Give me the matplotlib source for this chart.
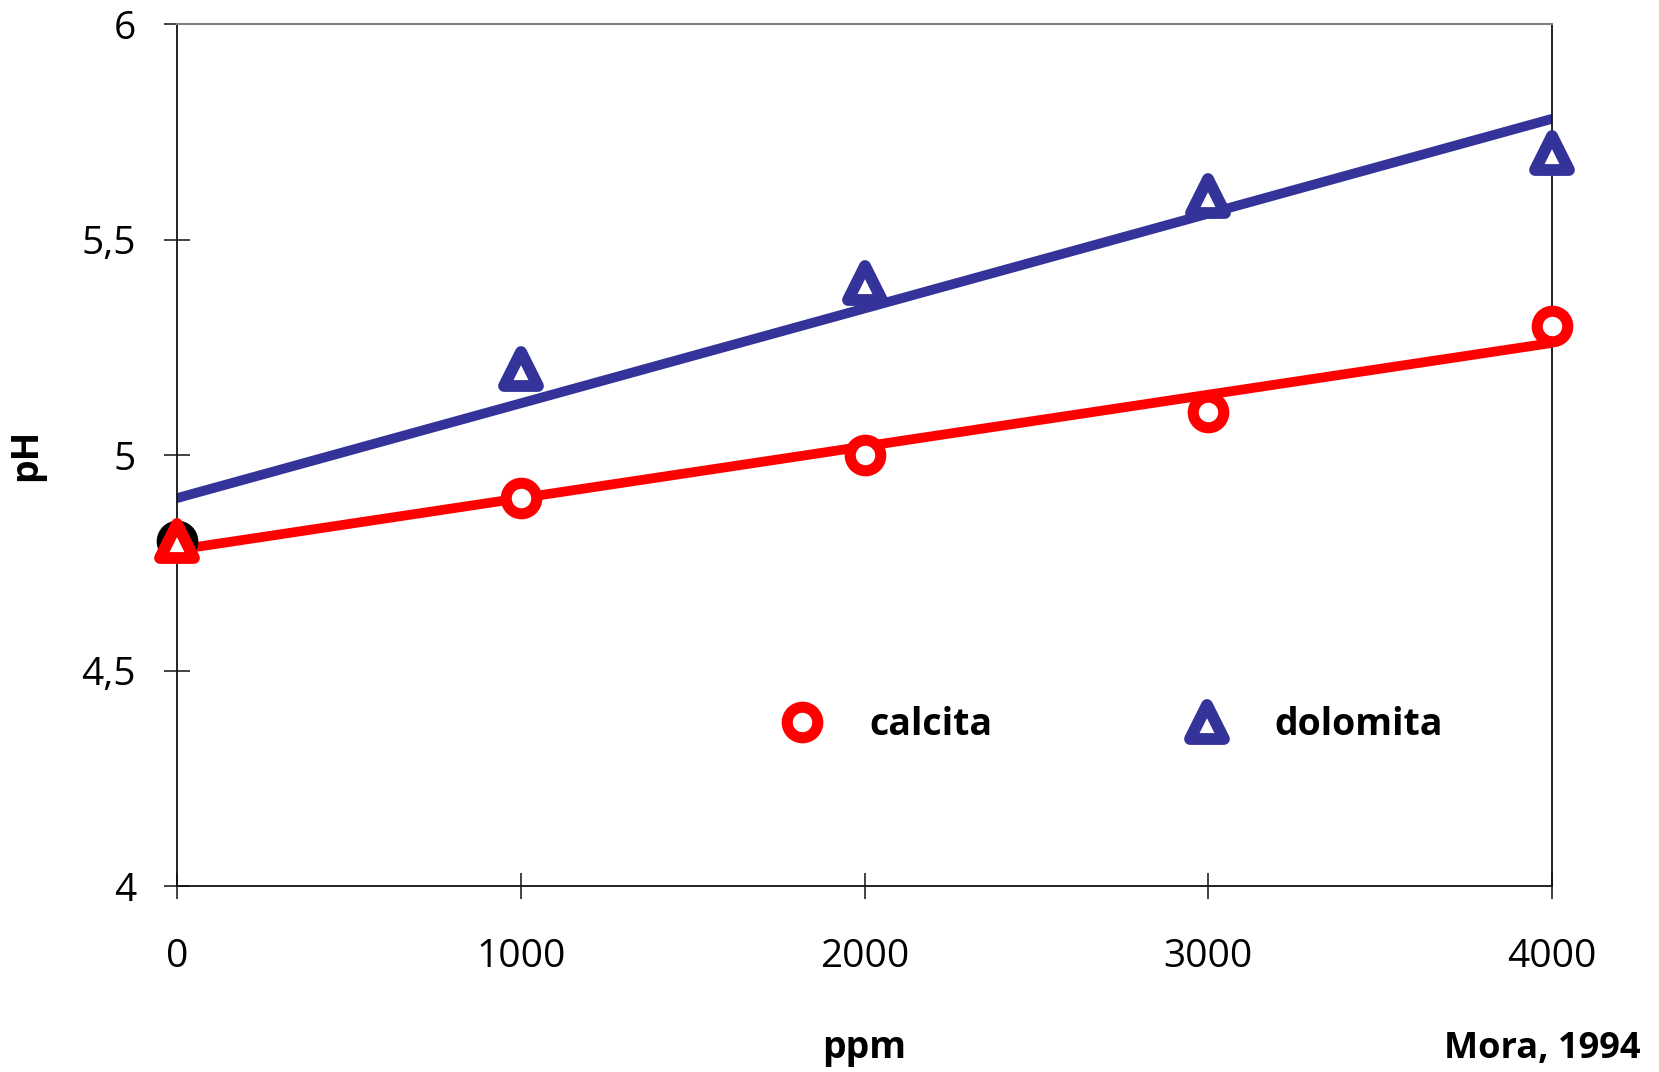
import numpy as np
import matplotlib
matplotlib.use("Agg")
import matplotlib.pyplot as plt
from matplotlib.lines import Line2D
from matplotlib.markers import MarkerStyle

# ==========================
# Dados (Mora, 1994)
# ==========================
ppm = [0, 1000, 2000, 3000, 4000]
ph_calcita = [4.8, 4.9, 5.0, 5.1, 5.3]
ph_dolomita = [4.8, 5.2, 5.4, 5.6, 5.7]

y_ticks = [4, 4.5, 5, 5.5, 6]
y_labels = ["4", "4,5", "5", "5,5", "6"]
x_ticks = [0, 1000, 2000, 3000, 4000]

RED = "#FF0000"
BLUE = "#333399"

plt.rcParams["font.family"] = ["Open Sans", "DejaVu Sans"]

fig = plt.figure(figsize=(16.59, 10.72), dpi=100)
ax = fig.add_axes([0.1067, 0.1735, 0.8288, 0.8041])

circ = MarkerStyle("o")
tri = MarkerStyle("^", joinstyle="round")

# ==========================
# Linhas de tendência (ajuste linear)
# ==========================
x_fit = np.array([ppm[0], ppm[-1]])
for ys, cor in [(ph_calcita, RED), (ph_dolomita, BLUE)]:
    a, b = np.polyfit(ppm, ys, 1)
    ax.plot(x_fit, a * x_fit + b, color=cor, lw=7, solid_capstyle="round", zorder=2)

# ==========================
# Pontos
# ==========================
ax.plot(ppm[1:], ph_calcita[1:], marker=circ, ms=22, mfc="white", mec=RED, mew=8,
        ls="none", zorder=5, clip_on=False)
ax.plot(ppm[0], ph_calcita[0], marker=circ, ms=22, mew=8, color="black",
        zorder=3, clip_on=False)
ax.plot(ppm[1:], ph_dolomita[1:], marker=tri, ms=24, mfc="white", mec=BLUE, mew=8.5,
        ls="none", zorder=4, clip_on=False)
ax.plot(ppm[0], ph_dolomita[0], marker=tri, ms=24, mfc="white", mec=RED, mew=8.5,
        zorder=4, clip_on=False)

ax.set_xlim(0, 4000)
ax.set_ylim(4, 6)
ax.set_xticks(x_ticks)
ax.set_yticks(y_ticks)
ax.set_yticklabels(y_labels)

ax.tick_params(axis="both", direction="inout", length=19, width=1.2,
               color="#222222", labelsize=28)
ax.tick_params(axis="x", pad=28)
ax.tick_params(axis="y", pad=20)

ax.spines["top"].set_color("#808080")
ax.spines["top"].set_linewidth(1.5)
for s in ["left", "bottom", "right"]:
    ax.spines[s].set_color("#111111")
    ax.spines[s].set_linewidth(1.3)

ax.set_xlabel("ppm", fontsize=27, fontweight="bold", labelpad=38)
ax.set_ylabel("pH", fontsize=27, fontweight="bold", labelpad=26)

# ==========================
# Legenda
# ==========================
handles = [
    Line2D([], [], marker=circ, ls="none", ms=22, mfc="white", mec=RED, mew=8),
    Line2D([], [], marker=tri, ls="none", ms=24, mfc="white", mec=BLUE, mew=8.5),
]
leg = ax.legend(handles, ["calcita", "dolomita"], ncol=2, frameon=False,
                loc="center", bbox_to_anchor=(0.674, 0.187),
                prop={"size": 27, "weight": "bold"},
                handletextpad=0.8, columnspacing=4.7)

fig.text(0.9295, 0.021, "Mora, 1994", fontsize=26, fontweight="bold",
         ha="center", va="center")

fig.savefig("out.png", dpi=100)
